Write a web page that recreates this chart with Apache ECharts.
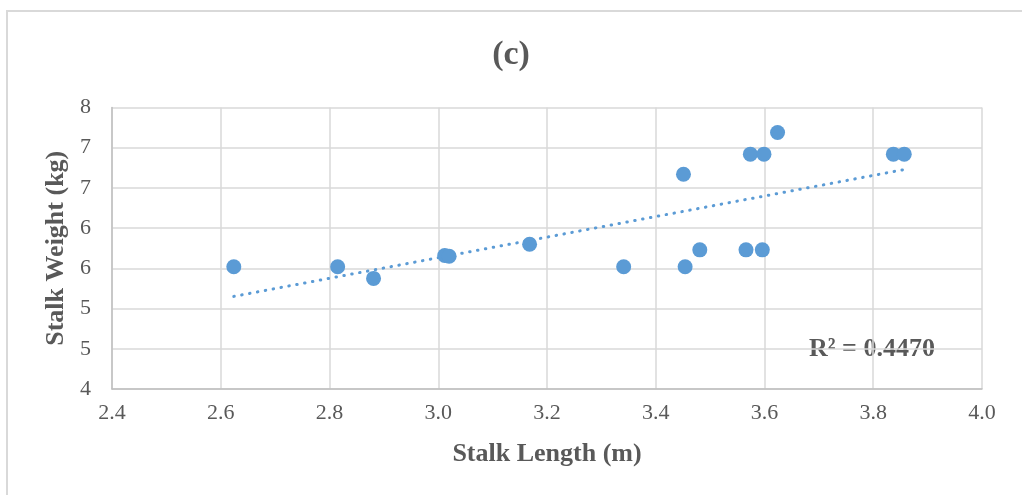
<!DOCTYPE html>
<html>
<head>
<meta charset="utf-8">
<script src="https://cdn.jsdelivr.net/npm/echarts@6/dist/echarts.min.js"></script>
<style>
  html, body { margin: 0; padding: 0; background: #fff; }
  .frame { position: absolute; left: 6px; top: 10px; width: 1100px; height: 600px; border: 2px solid #d9d9d9; }
  #chart { position: absolute; left: 0; top: 0; width: 1022px; height: 495px; }
</style>
</head>
<body>
<div class="frame"></div>
<div id="chart"></div>
<script>
// 茎长 (m)
const stalkLength = [2.624, 2.815, 2.881, 3.012, 3.020, 3.168, 3.341, 3.451, 3.454,
  3.481, 3.566, 3.596, 3.574, 3.599, 3.624, 3.837, 3.857]
// 茎重 (kg)
const stalkWeight = [5.52, 5.52, 5.375, 5.66, 5.65, 5.80, 5.52, 6.67, 5.52,
  5.73, 5.73, 5.73, 6.92, 6.92, 7.19, 6.92, 6.92]

const xTicks = { min: 2.4, max: 4.0, interval: 0.2 }
const yTicks = { min: 4, max: 7.5, interval: 0.5 }
const rSquaredText = 'R² = 0.4470'

const points = stalkLength.map((x, i) => [x, stalkWeight[i]])

/** 最小二乘线性趋势线 */
function linearTrend(xs, ys) {
  const n = xs.length
  const mx = xs.reduce((a, b) => a + b, 0) / n
  const my = ys.reduce((a, b) => a + b, 0) / n
  let sxy = 0, sxx = 0
  xs.forEach((x, i) => { sxy += (x - mx) * (ys[i] - my); sxx += (x - mx) ** 2 })
  const k = sxy / sxx
  const b = my - k * mx
  const x0 = Math.min(...xs), x1 = Math.max(...xs)
  return [[x0, k * x0 + b], [x1, k * x1 + b]]
}

const font = 'Liberation Serif'
const grey = '#595959'
const blue = '#5b9bd5'

const chart = echarts.init(document.getElementById('chart'))
chart.setOption({
  animation: false,
  title: {
    text: '(c)', left: 'center', top: 33,
    textStyle: { fontFamily: font, fontSize: 34, fontWeight: 'bold', color: grey }
  },
  grid: { left: 112, right: 40, top: 107.5, bottom: 106 },
  xAxis: {
    type: 'value', min: xTicks.min, max: xTicks.max, interval: xTicks.interval,
    name: 'Stalk Length (m)', nameLocation: 'middle', nameGap: 52,
    nameTextStyle: { fontFamily: font, fontSize: 26, fontWeight: 'bold', color: grey },
    axisLine: { show: true, lineStyle: { color: '#bfbfbf', width: 1.5 } },
    axisTick: { show: false },
    axisLabel: { fontFamily: font, fontSize: 22, color: grey, margin: 13, formatter: v => v.toFixed(1) },
    splitLine: { show: true, lineStyle: { color: '#d9d9d9', width: 1.5 } }
  },
  yAxis: {
    type: 'value', min: yTicks.min, max: yTicks.max, interval: yTicks.interval,
    name: 'Stalk Weight (kg)', nameLocation: 'middle', nameGap: 41,
    nameTextStyle: { fontFamily: font, fontSize: 26, fontWeight: 'bold', color: grey },
    axisLine: { show: true, lineStyle: { color: '#bfbfbf', width: 1.5 } },
    axisTick: { show: false },
    axisLabel: { fontFamily: font, fontSize: 22, color: grey, margin: 21, formatter: v => String(Math.floor(v + 0.5)) },
    splitLine: { show: true, lineStyle: { color: '#d9d9d9', width: 1.5 } }
  },
  series: [
    {
      type: 'line',
      data: linearTrend(stalkLength, stalkWeight),
      showSymbol: false,
      lineStyle: { color: blue, width: 3, type: [0.5, 7.5], cap: 'round' },
      z: 1
    },
    {
      type: 'scatter',
      data: points,
      symbolSize: 15,
      itemStyle: { color: blue, opacity: 1 },
      z: 2
    }
  ],
  graphic: [{
    type: 'text', left: 809, top: 336,
    style: { text: rSquaredText, font: 'bold 26px "Liberation Serif"', fill: grey }
  }]
})
</script>
</body>
</html>
